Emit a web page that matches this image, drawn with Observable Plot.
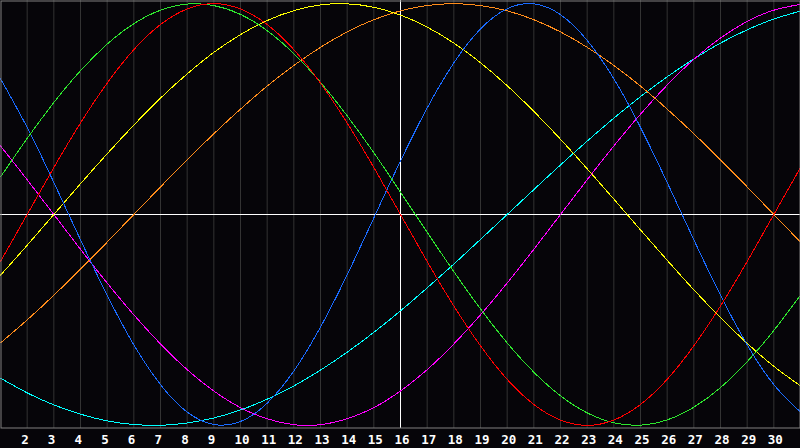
<!DOCTYPE html>
<html>
<head>
<meta charset="utf-8">
<script src="https://cdn.jsdelivr.net/npm/d3@7"></script>
<script src="https://cdn.jsdelivr.net/npm/@observablehq/plot@0.6"></script>
<style>
  html, body { margin: 0; padding: 0; background: #060509; }
  #chart svg { display: block; }
</style>
</head>
<body>
<div id="chart"></div>
<script>
const days = d3.range(1, 32);
const tickLabels = d3.range(2, 31);
const today = 16;

const blue    = [0.644,0.413,0.152,-0.120,-0.383,-0.618,-0.807,-0.937,-0.996,-0.982,-0.895,-0.742,-0.534,-0.286,-0.016,0.254,0.505,0.719,0.880,0.976,0.999,0.948,0.826,0.644,0.413,0.152,-0.120,-0.383,-0.618,-0.807,-0.937];
const red     = [-0.223,0,0.223,0.434,0.623,0.782,0.901,0.975,1,0.975,0.901,0.782,0.623,0.434,0.223,0,-0.223,-0.434,-0.623,-0.782,-0.901,-0.975,-1,-0.975,-0.901,-0.782,-0.623,-0.434,-0.223,0,0.223];
const green   = [0.178,0.361,0.531,0.682,0.808,0.905,0.969,0.998,0.991,0.949,0.872,0.763,0.627,0.468,0.293,0.106,-0.084,-0.271,-0.448,-0.609,-0.748,-0.860,-0.941,-0.988,-0.999,-0.974,-0.914,-0.821,-0.698,-0.550,-0.382];
const magenta = [0.325,0.165,0,-0.165,-0.325,-0.476,-0.614,-0.736,-0.837,-0.916,-0.969,-0.997,-0.997,-0.969,-0.916,-0.837,-0.736,-0.614,-0.476,-0.325,-0.165,0,0.165,0.325,0.476,0.614,0.736,0.837,0.916,0.969,0.997];
const yellow  = [-0.288,-0.146,0,0.146,0.288,0.424,0.552,0.667,0.769,0.853,0.920,0.967,0.994,0.999,0.983,0.946,0.889,0.813,0.720,0.611,0.489,0.357,0.217,0.073,-0.073,-0.217,-0.357,-0.489,-0.611,-0.720,-0.813];
const orange  = [-0.609,-0.5,-0.383,-0.259,-0.131,0,0.131,0.259,0.383,0.5,0.609,0.707,0.793,0.866,0.924,0.966,0.991,1,0.991,0.966,0.924,0.866,0.793,0.707,0.609,0.5,0.383,0.259,0.131,0,-0.131];
const cyan    = [-0.776,-0.846,-0.903,-0.947,-0.979,-0.996,-1.0,-0.989,-0.965,-0.927,-0.876,-0.813,-0.738,-0.653,-0.559,-0.457,-0.348,-0.235,-0.118,0,0.118,0.235,0.348,0.457,0.559,0.653,0.738,0.813,0.876,0.927,0.965];

const seriesList = [
  {name: "cyan", values: cyan, color: "#00ffff"},
  {name: "magenta", values: magenta, color: "#ff00ff"},
  {name: "orange", values: orange, color: "#ff8c1a"},
  {name: "yellow", values: yellow, color: "#ffff00"},
  {name: "blue", values: blue, color: "#1a6bff"},
  {name: "green", values: green, color: "#2ee62e"},
  {name: "red", values: red, color: "#ff0000"}
];

const gridDays = tickLabels.filter(d => d !== today);

const marks = [
  Plot.ruleX(gridDays, {x: d => d, stroke: "#333333", strokeWidth: 1}),
  Plot.ruleX([today], {x: d => d, stroke: "#ffffff", strokeWidth: 1}),
  Plot.ruleY([0], {y: d => d, stroke: "#ffffff", strokeWidth: 1}),
];
for (const s of seriesList) {
  const rows = days.map((d, i) => ({day: d, value: s.values[i]}));
  marks.push(Plot.line(rows, {x: "day", y: "value", stroke: s.color, strokeWidth: 1, curve: "natural", shapeRendering: "crispEdges"}));
}
marks.push(Plot.frame({stroke: "#808080", inset: 0.5}));
marks.push(Plot.text(tickLabels, {
  x: d => d, text: d => String(d), frameAnchor: "bottom", dy: 11, dx: -6,
  textAnchor: "start", lineAnchor: "middle", fill: "#ffffff",
  fontSize: 12.5, fontWeight: "bold", fontFamily: "DejaVu Sans Mono"
}));

const chart = Plot.plot({
  width: 800,
  height: 448,
  marginTop: 0,
  marginBottom: 20,
  marginLeft: 0,
  marginRight: 0,
  style: {background: "#060509", overflow: "visible"},
  x: {domain: [1, 31], axis: null},
  y: {domain: [-1.015, 1.015], axis: null},
  marks
});
document.getElementById("chart").appendChild(chart);
</script>
</body>
</html>
